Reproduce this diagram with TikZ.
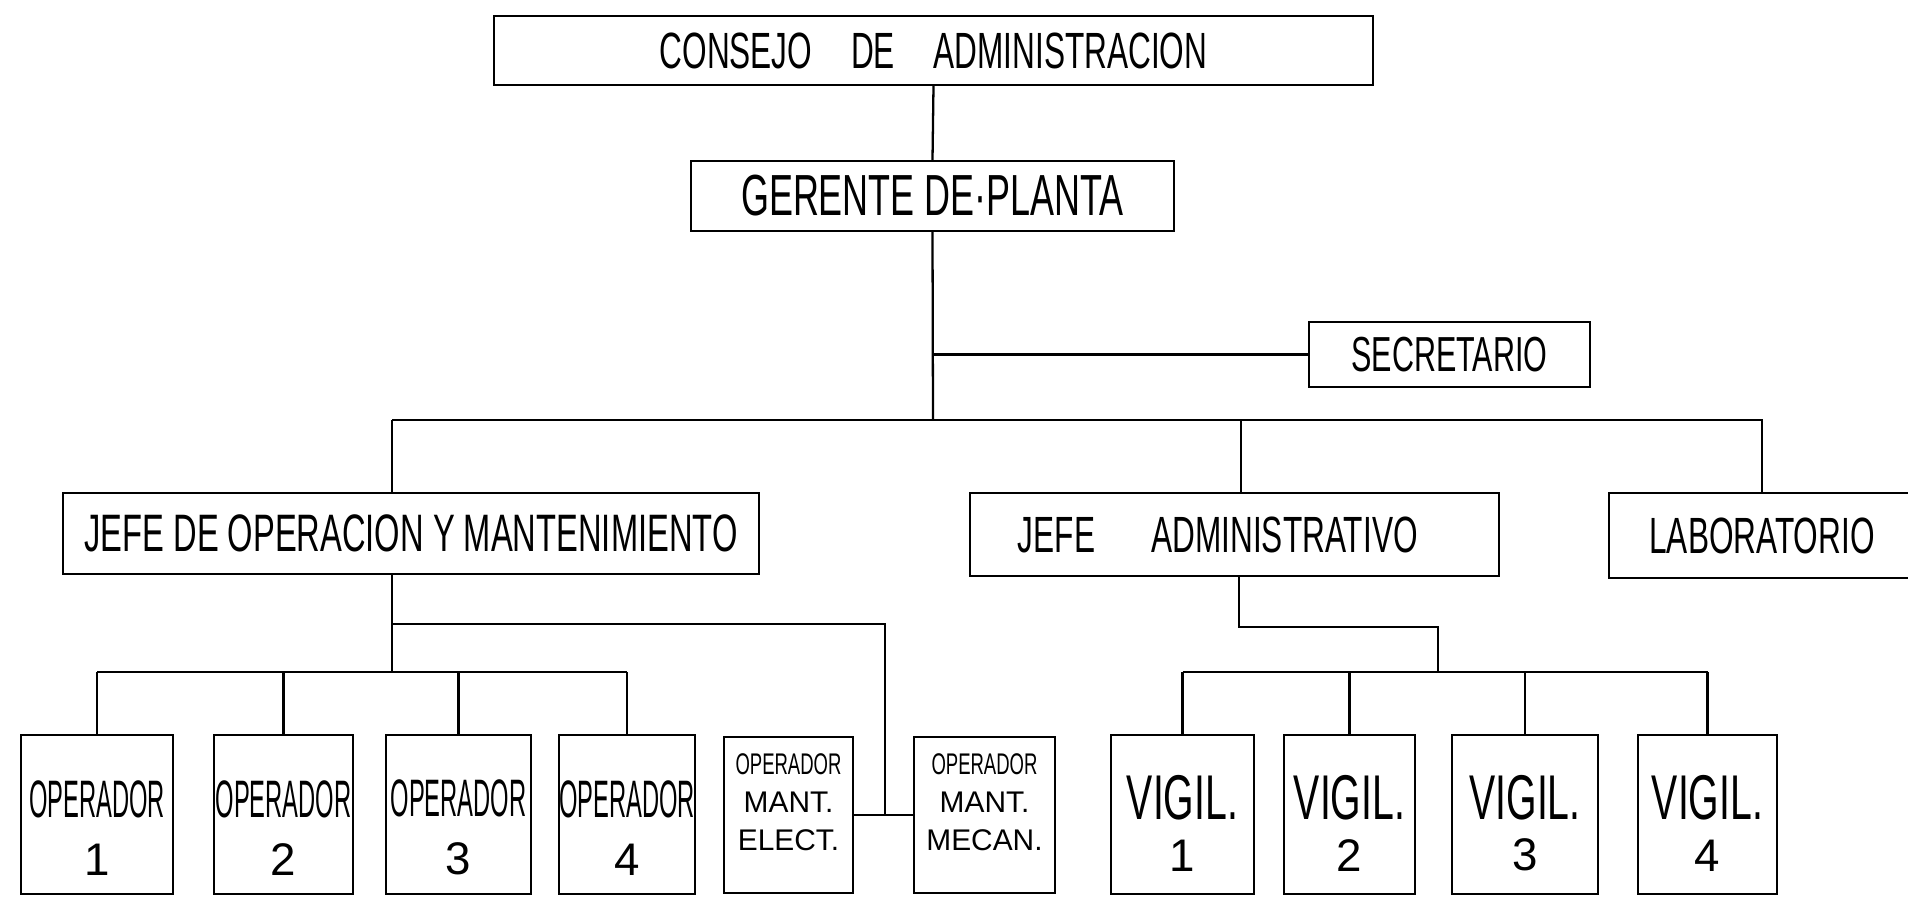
\documentclass[tikz,border=0pt]{standalone}
\usepackage{fontspec}
\setmainfont{Liberation Sans}
\newfontfamily\handfont[FakeStretch=0.62]{Liberation Sans}
\newfontfamily\tallfont[FakeStretch=0.45]{Liberation Sans}
\begin{document}
\begin{tikzpicture}[x=0.02cm,y=-0.02cm,line width=1.3pt,
    box/.style={draw,rectangle,inner sep=0pt,align=center},
    opbox/.style={box,minimum height=3.18cm,font=\tallfont\fontsize{30}{33}\selectfont},
    vigbox/.style={box,minimum height=3.18cm,font=\handfont\fontsize{36}{29.5}\selectfont},
    mantbox/.style={box,minimum height=3.12cm,font=\fontsize{17}{21.5}\selectfont,
      execute at end node={\rule[-15pt]{0pt}{15pt}}}]
  \useasboundingbox (0,0) rectangle (1908,902);
  \node[box,minimum width=17.58cm,minimum height=1.38cm,font=\handfont\fontsize{29}{31}\selectfont] (consejo) at (933.5,50.5) {CONSEJO\hspace{22pt}DE\hspace{22pt}ADMINISTRACION};
  \node[box,minimum width=9.66cm,minimum height=1.40cm,font=\handfont\fontsize{33}{35}\selectfont] (gerente) at (932.5,196) {GERENTE DE·PLANTA};
  \node[box,minimum width=5.62cm,minimum height=1.30cm,font=\handfont\fontsize{28}{30}\selectfont] (secretario) at (1449.5,354.5) {SECRETARIO};
  \node[box,minimum width=13.92cm,minimum height=1.62cm,font=\handfont\fontsize{30}{32}\selectfont] (jefeop) at (411,533.5) {JEFE DE OPERACION Y MANTENIMIENTO};
  \node[box,minimum width=10.58cm,minimum height=1.66cm,font=\handfont\fontsize{29}{32}\selectfont] (jefeadm) at (1234.5,534.5) {JEFE\hspace{32pt}ADMINISTRATIVO\hspace*{19pt}};
  \node[box,minimum width=6.12cm,minimum height=1.70cm,font=\handfont\fontsize{29}{31}\selectfont] (lab) at (1762,535.5) {LABORATORIO};

  \node[opbox,minimum width=3.04cm] (op1) at (97,814.5) {\rule{0pt}{36pt}OPERADOR\\{\normalfont\fontsize{26}{28}\selectfont 1}};
  \node[opbox,minimum width=2.78cm] (op2) at (283.5,814.5) {\rule{0pt}{36pt}OPERADOR\\{\normalfont\fontsize{26}{28}\selectfont 2}};
  \node[opbox,minimum width=2.90cm] (op3) at (458.5,814.5) {\rule{0pt}{36pt}OPERADOR\\{\normalfont\fontsize{26}{28}\selectfont 3}};
  \node[opbox,minimum width=2.72cm] (op4) at (627,814.5) {\rule{0pt}{36pt}OPERADOR\\{\normalfont\fontsize{26}{28}\selectfont 4}};
  \node[mantbox,minimum width=2.58cm] (elect) at (788.5,815) {{\handfont OPERADOR}\\MANT.\\ELECT.};
  \node[mantbox,minimum width=2.82cm] (mecan) at (984.5,815) {{\handfont OPERADOR}\\MANT.\\MECAN.};

  \node[vigbox,minimum width=2.86cm] (v1) at (1182.5,814.5) {\rule{0pt}{35pt}VIGIL.\\{\normalfont\fontsize{26}{28}\selectfont 1}};
  \node[vigbox,minimum width=2.62cm] (v2) at (1349.5,814.5) {\rule{0pt}{35pt}VIGIL.\\{\normalfont\fontsize{26}{28}\selectfont 2}};
  \node[vigbox,minimum width=2.92cm] (v3) at (1525,814.5) {\rule{0pt}{35pt}VIGIL.\\{\normalfont\fontsize{26}{28}\selectfont 3}};
  \node[vigbox,minimum width=2.78cm] (v4) at (1707.5,814.5) {\rule{0pt}{35pt}VIGIL.\\{\normalfont\fontsize{26}{28}\selectfont 4}};

  \coordinate (bus) at (933,420);
  \coordinate (opdrop) at (392,420);
  \coordinate (admdrop) at (1241,420);
  \draw (consejo.south) -- (gerente.north);
  \draw (gerente.south) -- (bus);
  \draw (gerente.south |- secretario.west) -- (secretario.west);
  \draw (opdrop) -- (lab.north |- bus) -- (lab.north);
  \draw (opdrop) -- (opdrop |- jefeop.north);
  \draw (admdrop) -- (admdrop |- jefeadm.north);

  \coordinate (opbar) at (392,672);
  \coordinate (mantbr) at (392,624);
  \coordinate (mantx) at (885,624);
  \draw (opdrop |- jefeop.south) -- (opbar);
  \draw (op1.north |- opbar) -- (op4.north |- opbar);
  \foreach \i in {1,...,4} \draw (op\i.north) -- (op\i.north |- opbar);
  \draw (mantbr) -- (mantx) -- (mantx |- elect.east);
  \draw (elect.east) -- (mecan.west);

  \coordinate (admbr) at (1239,627);
  \coordinate (vigbar) at (1438,672);
  \draw (admbr |- jefeadm.south) -- (admbr) -- (admbr -| vigbar) -- (vigbar);
  \draw (v1.north |- vigbar) -- (v4.north |- vigbar);
  \foreach \i in {1,...,4} \draw (v\i.north) -- (v\i.north |- vigbar);
\end{tikzpicture}
\end{document}
